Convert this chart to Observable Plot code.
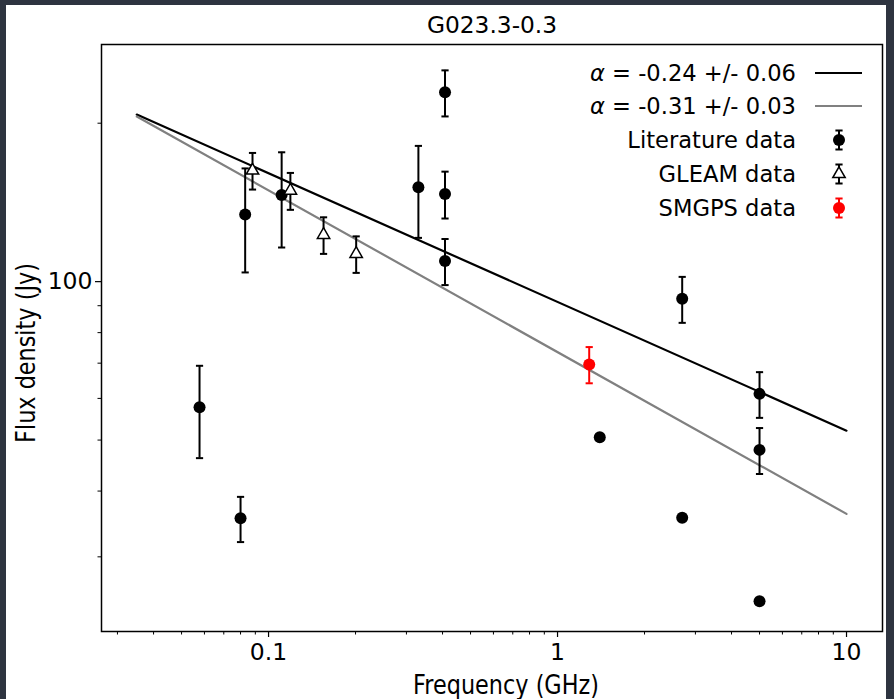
<!DOCTYPE html>
<html>
<head>
<meta charset="utf-8">
<script src="https://cdn.jsdelivr.net/npm/d3@7"></script>
<script src="https://cdn.jsdelivr.net/npm/@observablehq/plot@0.6"></script>
<style>
html,body{margin:0;padding:0;background:#2e3440;width:894px;height:699px;overflow:hidden;}
#fig{position:absolute;left:6px;top:5px;width:880px;height:694px;background:#fff;}
#fig svg{display:block;}
</style>
</head>
<body>
<div id="fig"></div>
<script>
// ---- data ----
const title = "G023.3-0.3";
const xLabel = "Frequency (GHz)";
const yLabel = "Flux density (Jy)";

const litFreq = [0.0577, 0.080, 0.083, 0.111, 0.33, 0.408, 0.408, 0.408, 2.7, 5.0, 5.0, 1.4, 2.7, 5.0];
const litFlux = [57.7, 35.5, 134.1, 146.1, 151.1, 229.0, 146.8, 109.5, 92.8, 61.2, 47.9, 50.6, 35.6, 24.7];
const litErr  = [11.5, 3.5, 30, 30, 30, 23, 15, 11, 9.3, 6.1, 4.8, null, null, null];

const gleamFreq = [0.088, 0.119, 0.155, 0.201];
const gleamFlux = [162.6, 148.9, 122.7, 112.9];
const gleamErr  = [13, 12, 9.8, 9];

const smgpsFreq = [1.287];
const smgpsFlux = [69.6];
const smgpsErr  = [5.5];

const fitFreq = [0.035, 10];
const fitBlackFlux = [207.7, 52.1];
const fitGreyFlux  = [205.9, 36.2];

const legendLabels = ["-0.24 +/- 0.06", "-0.31 +/- 0.03", "Literature data", "GLEAM data", "SMGPS data"];

const xMajor = [0.1, 1, 10];
const xMinor = [0.03, 0.04, 0.05, 0.06, 0.07, 0.08, 0.09, 0.2, 0.3, 0.4, 0.5, 0.6, 0.7, 0.8, 0.9, 2, 3, 4, 5, 6, 7, 8, 9];
const yMajor = [100];
const yMinor = [30, 40, 50, 60, 70, 80, 90, 200];

// ---- build tables ----
const rows = (f, s, e) => f.map((v, i) => ({f: v, s: s[i], e: e[i]}));
const lit = rows(litFreq, litFlux, litErr);
const gleam = rows(gleamFreq, gleamFlux, gleamErr);
const smgps = rows(smgpsFreq, smgpsFlux, smgpsErr);
const fitBlack = fitFreq.map((f, i) => ({f, s: fitBlackFlux[i]}));
const fitGrey = fitFreq.map((f, i) => ({f, s: fitGreyFlux[i]}));
const withErr = d => d.e != null;

const cap = {draw(ctx, size) { const h = Math.sqrt(size / Math.PI); ctx.moveTo(-h, 0); ctx.lineTo(h, 0); }};

function errMarks(data, color) {
  const d = data.filter(withErr);
  return [
    Plot.ruleX(d, {x: "f", y1: r => r.s - r.e, y2: r => r.s + r.e, stroke: color, strokeWidth: 2}),
    Plot.dot(d, {x: "f", y: r => r.s - r.e, symbol: cap, r: 3.6, stroke: color, fill: "none", strokeWidth: 2}),
    Plot.dot(d, {x: "f", y: r => r.s + r.e, symbol: cap, r: 3.6, stroke: color, fill: "none", strokeWidth: 2})
  ];
}

const W = 880, H = 694;
const chart = Plot.plot({
  width: W, height: H,
  marginLeft: 95, marginRight: 4, marginTop: 39, marginBottom: 68,
  style: {fontFamily: "DejaVu Sans", fontSize: "23px", background: "#fff", color: "#000", overflow: "visible"},
  x: {type: "log", domain: [0.02642, 13.32]},
  y: {type: "log", domain: [21.64, 282.2]},
  marks: [
    Plot.line(fitBlack, {x: "f", y: "s", stroke: "#000", strokeWidth: 2.2}),
    Plot.line(fitGrey, {x: "f", y: "s", stroke: "#808080", strokeWidth: 2.2}),
    ...errMarks(lit, "#000"),
    Plot.dot(lit, {x: "f", y: "s", r: 6, fill: "#000", stroke: "none"}),
    ...errMarks(gleam, "#000"),
    Plot.dot(gleam, {x: "f", y: "s", symbol: "triangle", r: 4.6, fill: "#fff", stroke: "#000", strokeWidth: 1.5}),
    ...errMarks(smgps, "#ff0000"),
    Plot.dot(smgps, {x: "f", y: "s", r: 6, fill: "#ff0000", stroke: "none"}),
    Plot.axisX(xMajor, {tickSize: 6, tickPadding: 6, tickFormat: d => String(d), fontSize: 23.5, label: null, strokeWidth: 1.2}),
    Plot.axisX(xMinor, {tickSize: 3.5, tickFormat: () => "", label: null, strokeWidth: 1}),
    Plot.axisY(yMajor, {tickSize: 6, tickPadding: 3, tickFormat: d => String(d), fontSize: 23.5, label: null, strokeWidth: 1.2}),
    Plot.axisY(yMinor, {tickSize: 3.5, tickFormat: () => "", label: null, strokeWidth: 1}),
    Plot.frame({stroke: "#000", strokeWidth: 1.5}),
    Plot.text([title], {frameAnchor: "top", dy: -19, fontSize: 23.3, lineAnchor: "middle", text: d => d}),
    Plot.text([xLabel], {frameAnchor: "bottom", dx: 14, dy: 54, fontSize: 26, lineAnchor: "middle", textAnchor: "middle", text: d => d}),
    Plot.text([yLabel], {frameAnchor: "left", dx: -75, dy: 15, rotate: -90, fontSize: 26, lineAnchor: "middle", textAnchor: "middle", text: d => d})
  ]
});
document.getElementById("fig").appendChild(chart);

// narrow the axis-label glyphs (reference uses a condensed look)
const svg = d3.select(chart);
svg.selectAll("text").filter(function() { return this.textContent === xLabel || this.textContent === yLabel; })
  .each(function() {
    const tr = this.getAttribute("transform") || "";
    this.setAttribute("transform", tr + " scale(0.86,1)");
  });

// ---- legend (upper right, inside the frame) ----
const lg = svg.append("g").attr("font-family", "DejaVu Sans").attr("font-size", 22.6);
const ox = -6, oy = -5; // page -> svg offset
const rowY = [73, 106, 140, 174, 208].map(v => v + oy);
const textX = 796 + ox, symX = 839 + ox;
legendLabels.forEach((lab, i) => {
  const t = lg.append("text").attr("x", textX).attr("y", rowY[i]).attr("dy", "0.35em").attr("text-anchor", "end").attr("fill", "#000");
  if (i < 2) {
    t.append("tspan").attr("font-style", "italic").text("α");
    t.append("tspan").text(" = " + lab);
  } else t.text(lab);
});
[["#000", 0], ["#808080", 1]].forEach(([c, i]) => {
  lg.append("line").attr("x1", 815 + ox).attr("x2", 862 + ox).attr("y1", rowY[i]).attr("y2", rowY[i]).attr("stroke", c).attr("stroke-width", 2.2);
});
[["#000", 2], ["#000", 3], ["#ff0000", 4]].forEach(([c, i]) => {
  const y = rowY[i];
  lg.append("line").attr("x1", symX).attr("x2", symX).attr("y1", y - 9.5).attr("y2", y + 9.5).attr("stroke", c).attr("stroke-width", 2);
  [y - 9.5, y + 9.5].forEach(yy => lg.append("line").attr("x1", symX - 3.6).attr("x2", symX + 3.6).attr("y1", yy).attr("y2", yy).attr("stroke", c).attr("stroke-width", 2));
  if (i === 3) {
    lg.append("path").attr("d", d3.symbol(d3.symbolTriangle, Math.PI * 4.6 * 4.6)()).attr("transform", `translate(${symX},${y})`).attr("fill", "#fff").attr("stroke", "#000").attr("stroke-width", 1.5);
  } else {
    lg.append("circle").attr("cx", symX).attr("cy", y).attr("r", 6).attr("fill", c);
  }
});
</script>
</body>
</html>
